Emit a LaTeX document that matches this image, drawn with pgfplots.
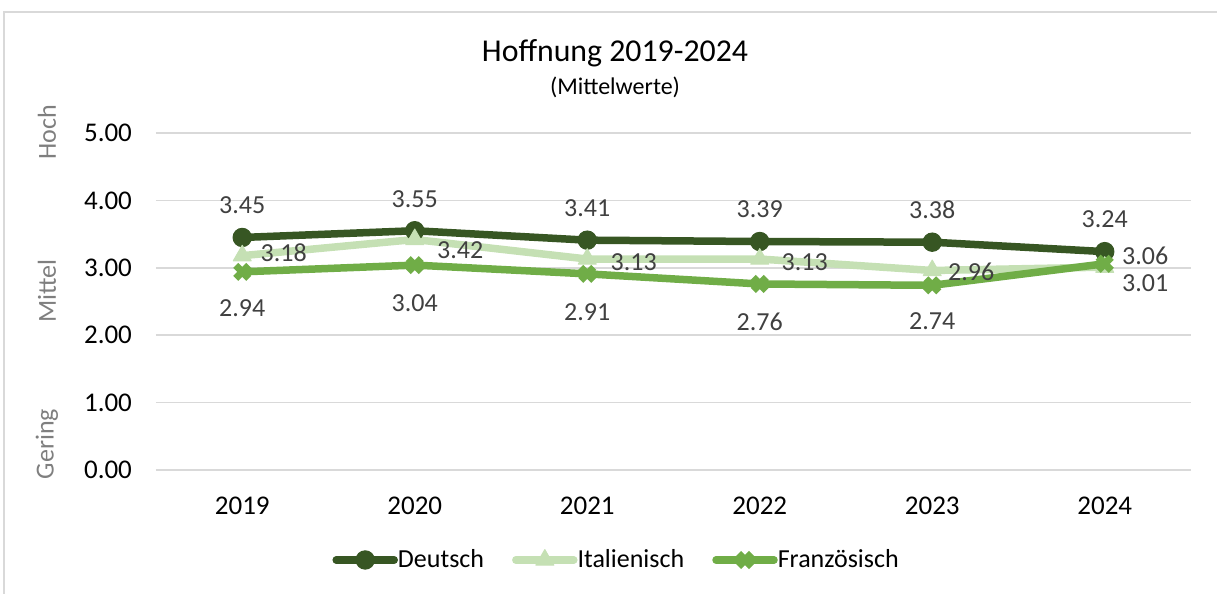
\documentclass[border=0pt]{standalone}
\usepackage{pgfplots}
\pgfplotsset{compat=1.18}
\usepackage{pgfplotstable}
\usepackage{fontspec}
\setmainfont{Carlito}

\definecolor{deC}{HTML}{375623}
\definecolor{itC}{HTML}{C5E0B4}
\definecolor{frC}{HTML}{70AD47}
\definecolor{lblC}{HTML}{404040}
\definecolor{gridC}{HTML}{D9D9D9}
\definecolor{sideC}{HTML}{7F7F7F}

% x = year index, dx/dy = label offset in pt
\pgfplotstableread{
x y dx dy
0 3.45 0 16
1 3.55 0 16
2 3.41 0 16
3 3.39 0 16
4 3.38 0 16
5 3.24 0 16.3
}\deutsch
\pgfplotstableread{
x y dx dy
0 3.18 20.7 1.3
1 3.42 22.7 -5.2
2 3.13 23.2 -1.5
3 3.13 22.5 -1.5
4 2.96 19.5 -0.8
5 3.01 20.2 -8
}\italienisch
\pgfplotstableread{
x y dx dy
0 2.94 0 -18
1 3.04 0 -19
2 2.91 0 -19
3 2.76 0 -19
4 2.74 0 -18
5 3.06 20.2 3.9
}\franzoesisch

\begin{document}
\begin{tikzpicture}
\useasboundingbox (0,0) rectangle (608.5pt,297pt);
\draw[gridC, line width=0.6pt] (2pt,-2pt) -- (2pt,291pt) -- (612pt,291pt);
\begin{axis}[
  at={(78pt,62pt)}, anchor=south west, scale only axis,
  width=517.5pt, height=168.5pt,
  xmin=-0.5, xmax=5.5, ymin=0, ymax=5,
  xtick={0,1,2,3,4,5}, xticklabels={2019,2020,2021,2022,2023,2024},
  ytick={0,1,2,3,4,5},
  yticklabel={\pgfmathprintnumber[fixed,zerofill,precision=2]{\tick}},
  /pgf/number format/assume math mode=true,
  axis line style={draw=none}, major tick length=0pt,
  ymajorgrids, grid style={gridC, line width=0.75pt},
  ticklabel style={font=\fontsize{13.5}{15}\selectfont, text=black},
  xticklabel style={yshift=-10pt},
  yticklabel style={xshift=-8.5pt},
  clip=false,
  legend columns=3,
  legend cell align=left,
  legend style={at={(0.446,-0.267)}, anchor=center, draw=none, fill=none,
    font=\fontsize{13}{15}\selectfont, text=black,
    /tikz/every even column/.append style={column sep=12pt},
    /tikz/every odd column/.append style={column sep=-2pt}},
  legend image code/.code={\draw[mark repeat=2, mark phase=2] plot coordinates {(0pt,0pt) (14.5pt,0pt) (29pt,0pt)};},
  every axis plot/.append style={line join=round, line cap=round},
  nodes near coords,
  point meta=y,
  visualization depends on={\thisrow{dx} \as \dx},
  visualization depends on={\thisrow{dy} \as \dy},
  every node near coord/.append style={anchor=center, xshift=\dx pt, yshift=\dy pt,
    text=lblC, font=\fontsize{13}{15}\selectfont,
    /pgf/number format/.cd, fixed, zerofill, precision=2, assume math mode=true},
]
\addplot[deC, line width=3.75pt, mark=*, mark size=4.6pt, mark options={line width=0.5pt}]
  table[x=x, y=y] {\deutsch};
\addlegendentry{Deutsch}
\addplot[itC, line width=3.75pt, mark=triangle*, mark size=5.2pt, mark options={line width=0.5pt}]
  table[x=x, y=y] {\italienisch};
\addlegendentry{Italienisch}
\addplot[frC, line width=3.75pt, mark=x, mark size=4.6pt, mark options={line width=3.6pt, line cap=butt}]
  table[x=x, y=y] {\franzoesisch};
\addlegendentry{Französisch}
\end{axis}
\node[font=\fontsize{15.9}{18}\selectfont, text=black] at (307.5pt,270.5pt) {Hoffnung 2019-2024};
\node[font=\fontsize{12}{14}\selectfont, text=black] at (307.5pt,253.5pt) {(Mittelwerte)};
\node[rotate=90, text=sideC, font=\fontsize{13}{15}\selectfont] at (23.5pt,231pt) {Hoch};
\node[rotate=90, text=sideC, font=\fontsize{13}{15}\selectfont] at (23.5pt,151.5pt) {Mittel};
\node[rotate=90, text=sideC, font=\fontsize{13}{15}\selectfont] at (23.5pt,75pt) {Gering};
\end{tikzpicture}
\end{document}
